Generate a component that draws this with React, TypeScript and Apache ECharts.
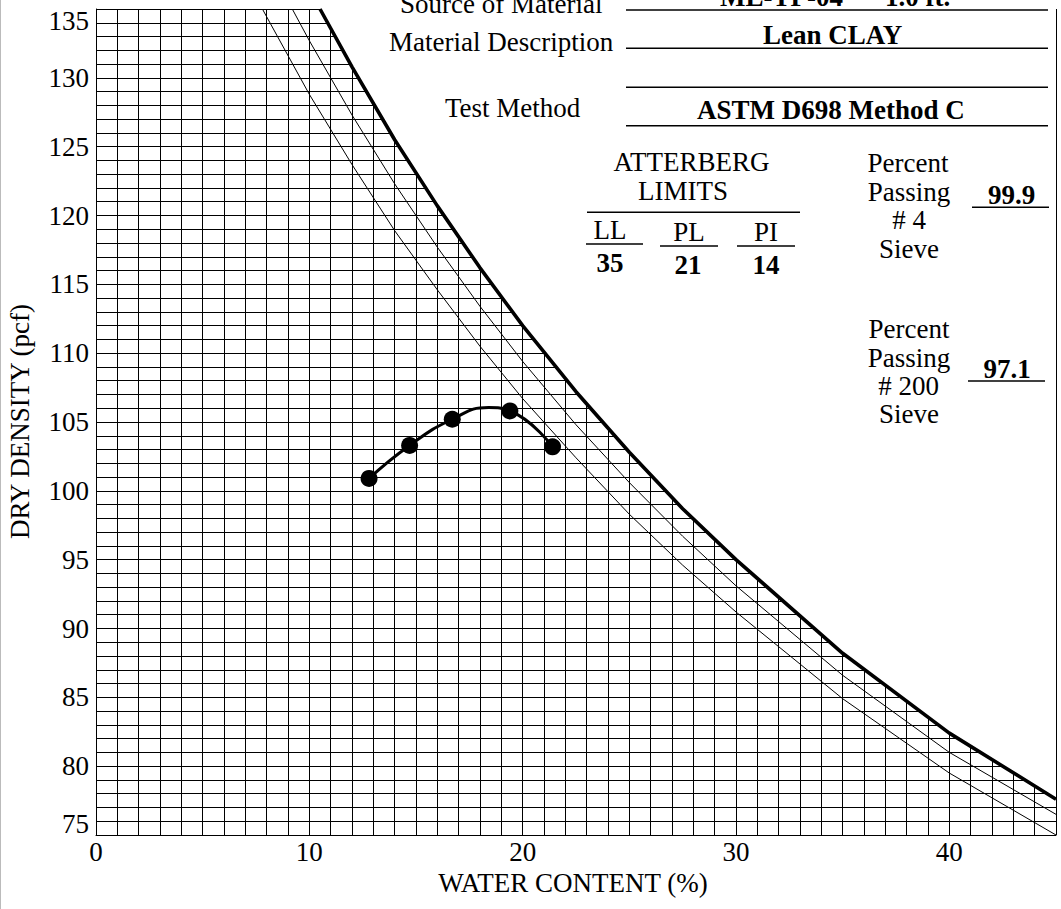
import React, { useEffect, useRef } from "react";
import * as echarts from "echarts";

// Compaction test points (water content %, dry density pcf)
const testWater = [12.8, 14.7, 16.7, 19.4, 21.4];
const testDensity = [100.9, 103.3, 105.2, 105.8, 103.2];

// Fitted compaction curve
const fitWater = [12.8, 14.7, 16.7, 18.4, 19.4, 21.4];
const fitDensity = [100.9, 103.3, 105.2, 106.05, 105.8, 103.2];

// Zero-air-voids curves
const zavThickWater = [10.5, 12, 14, 16, 18, 20, 22.5, 25, 27.5, 30, 35, 40, 45];
const zavThickDensity = [135, 130.8, 125.5, 120.7, 116.2, 112.0, 107.2, 102.8, 98.7, 95.0, 88.2, 82.4, 77.6];
const zavMidWater = [9.2, 10, 12, 14, 16, 18, 20, 22.5, 25, 27.5, 30, 35, 40, 45];
const zavMidDensity = [135, 132.7, 127.3, 122.3, 117.7, 113.4, 109.4, 104.8, 100.6, 96.7, 93.1, 86.6, 81.0, 76.5];
const zavLowWater = [7.8, 10, 12, 14, 16, 18, 20, 22.5, 25, 27.5, 30, 35, 40, 45];
const zavLowDensity = [135, 128.8, 123.7, 118.9, 114.6, 110.5, 106.7, 102.4, 98.3, 94.6, 91.2, 84.9, 79.5, 75.0];

// Axis settings
const xMin = 0, xMax = 45, xLabelStep = 10;
const yMin = 75, yMax = 135, yLabelStep = 5;

// Report texts
const sourceOfMaterial = ["ML-TP-04", "1.0 ft."];
const materialDescription = "Lean CLAY";
const testMethod = "ASTM D698 Method C";
const atterbergLabels = ["LL", "PL", "PI"];
const atterbergValues = ["35", "21", "14"];
const passing4 = "99.9";
const passing200 = "97.1";

const FONT = '"Liberation Serif", "Times New Roman", serif';
const FS = 27;

const pairs = (xs: number[], ys: number[]) => xs.map((x, i) => [x, ys[i]]);

function txt(text: string, x: number, y: number, align: string, bold = false, extra: any = {}) {
  return {
    type: "text",
    z: 100,
    x,
    y,
    ...extra,
    style: {
      text,
      fill: "#000",
      fontFamily: FONT,
      fontSize: FS,
      fontWeight: bold ? "bold" : "normal",
      textAlign: align,
      textVerticalAlign: "middle",
    },
  };
}

function hline(x1: number, x2: number, y: number, w = 1.4) {
  return {
    type: "line",
    z: 100,
    shape: { x1, y1: y, x2, y2: y },
    style: { stroke: "#000", lineWidth: w },
  };
}

export default function App() {
  const ref = useRef<HTMLDivElement>(null);
  useEffect(() => {
    if (!ref.current) return;
    const chart = echarts.init(ref.current, null, { renderer: "svg" });
    const gridColor = "#000";
    const graphics: any[] = [
      {
        type: "line",
        z: 100,
        shape: { x1: 0.5, y1: 0, x2: 0.5, y2: 909 },
        style: { stroke: "#bbb", lineWidth: 1 },
      },
      // header block
      txt("Source of Material", 400, 3.5, "left"),
      txt(sourceOfMaterial[0], 843, -3.5, "right", true),
      txt(sourceOfMaterial[1], 885, -3.5, "left", true),
      hline(626, 1048, 10),
      txt("Material Description", 389, 41.5, "left"),
      txt(materialDescription, 763, 34.5, "left", true),
      hline(626, 1048, 48.3),
      hline(626, 1048, 87.3),
      txt("Test Method", 445, 107.7, "left"),
      txt(testMethod, 697, 110, "left", true),
      hline(626, 1048, 125.7),
      // Atterberg limits
      txt("ATTERBERG", 691.5, 162, "center"),
      txt("LIMITS", 683, 191, "center"),
      hline(587, 800, 212.3),
      txt(atterbergLabels[0], 610, 229.5, "center"),
      txt(atterbergLabels[1], 689, 232, "center"),
      txt(atterbergLabels[2], 766, 232, "center"),
      hline(586, 643, 244),
      hline(660, 718, 246),
      hline(737, 795, 246),
      txt(atterbergValues[0], 610, 263, "center", true),
      txt(atterbergValues[1], 688, 265, "center", true),
      txt(atterbergValues[2], 766, 265, "center", true),
      // passing #4
      txt("Percent", 908, 163, "center"),
      txt("Passing", 909, 191.7, "center"),
      txt("# 4", 909, 220.3, "center"),
      txt("Sieve", 909, 249.3, "center"),
      txt(passing4, 1011.5, 195.3, "center", true),
      hline(972, 1049, 207.3),
      // passing #200
      txt("Percent", 909, 328.7, "center"),
      txt("Passing", 909, 357.7, "center"),
      txt("# 200", 908.5, 386, "center"),
      txt("Sieve", 909, 414.3, "center"),
      txt(passing200, 1007, 369.3, "center", true),
      hline(968, 1045, 381),
      // axis names
      txt("WATER CONTENT (%)", 573, 883, "center"),
      txt("DRY DENSITY (pcf)", 20, 421.5, "center", false, { rotation: Math.PI / 2 }),
    ];

    chart.setOption({
      animation: false,
      backgroundColor: "#fff",
      grid: { left: 96, right: 5, top: 9, bottom: 74, containLabel: false },
      xAxis: {
        type: "value",
        min: xMin,
        max: xMax,
        interval: 1,
        axisLine: { show: true, onZero: false, lineStyle: { color: gridColor, width: 1 } },
        axisTick: { show: false },
        axisLabel: {
          margin: 3,
          color: "#000",
          fontFamily: FONT,
          fontSize: FS,
          formatter: (v: number) => (v % xLabelStep === 0 ? String(v) : ""),
        },
        splitLine: { show: true, lineStyle: { color: gridColor, width: 1 } },
      },
      yAxis: {
        type: "value",
        min: yMin,
        max: yMax,
        interval: 1,
        axisLine: { show: true, onZero: false, lineStyle: { color: gridColor, width: 1 } },
        axisTick: { show: false },
        axisLabel: {
          margin: 7,
          color: "#000",
          fontFamily: FONT,
          fontSize: FS,
          formatter: (v: number) => {
            if (v % yLabelStep !== 0) return "";
            if (v === yMin) return "{lo|" + v + "}";
            if (v === yMax) return "{hi|" + v + "}";
            return String(v);
          },
          rich: {
            lo: { fontFamily: FONT, fontSize: FS, color: "#000", padding: [0, 0, 22, 0] },
            hi: { fontFamily: FONT, fontSize: FS, color: "#000", padding: [23, 0, 0, 0] },
          },
        },
        splitLine: { show: true, lineStyle: { color: gridColor, width: 1 } },
      },
      graphic: graphics,
      series: [
        {
          type: "line",
          data: pairs(zavThickWater, zavThickDensity),
          showSymbol: false,
          lineStyle: { color: "#000", width: 3.6 },
          areaStyle: { origin: "end", color: "#fff", opacity: 1 },
          z: 3,
        },
        {
          type: "line",
          data: pairs(zavMidWater, zavMidDensity),
          showSymbol: false,
          lineStyle: { color: "#000", width: 1 },
          z: 4,
        },
        {
          type: "line",
          data: pairs(zavLowWater, zavLowDensity),
          showSymbol: false,
          lineStyle: { color: "#000", width: 1 },
          z: 4,
        },
        {
          type: "line",
          data: pairs(fitWater, fitDensity),
          smooth: 0.5,
          showSymbol: false,
          lineStyle: { color: "#000", width: 3 },
          z: 5,
        },
        {
          type: "scatter",
          data: pairs(testWater, testDensity),
          symbol: "circle",
          symbolSize: 17,
          itemStyle: { color: "#000", opacity: 1 },
          z: 6,
        },
      ],
    });
    return () => chart.dispose();
  }, []);
  return (
    <div
      ref={ref}
      style={{ position: "absolute", left: 0, top: 0, width: 1061, height: 909, background: "#fff" }}
    />
  );
}
